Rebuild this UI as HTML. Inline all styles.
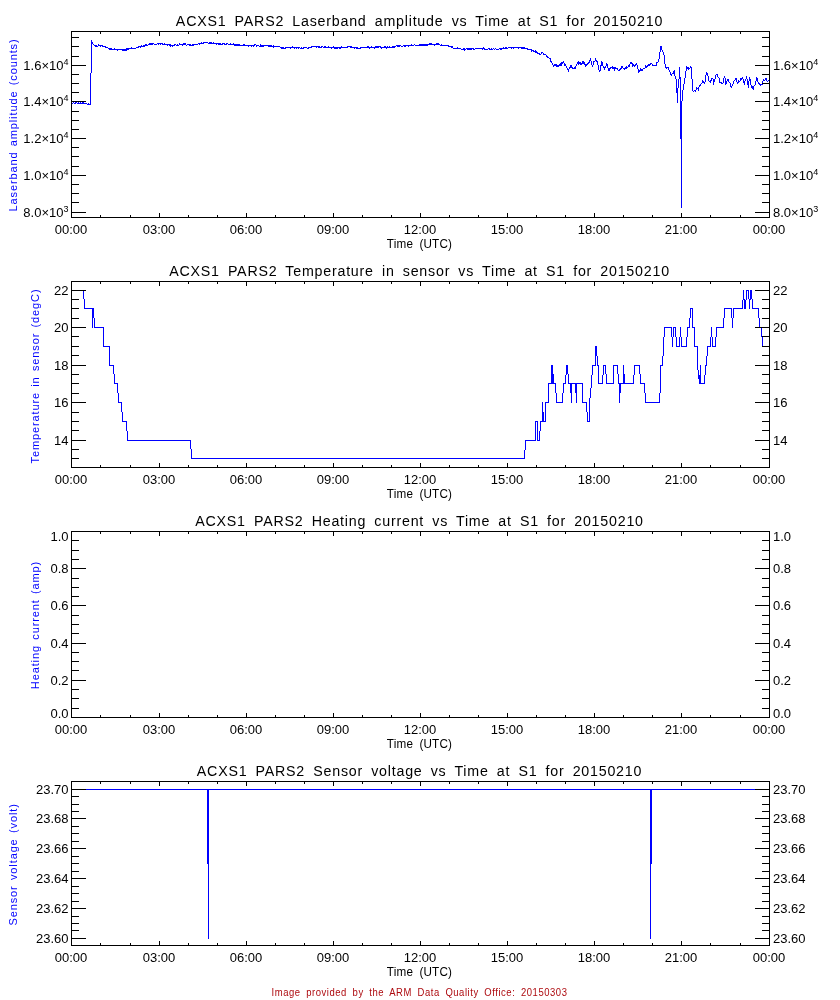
<!DOCTYPE html>
<html><head><meta charset="utf-8"><style>
html,body{margin:0;padding:0;background:#fff;overflow:hidden;}
svg{display:block;will-change:transform;font-family:"Liberation Sans",sans-serif;}
</style></head><body>
<svg width="840" height="1000" viewBox="0 0 840 1000">
<rect width="840" height="1000" fill="#fff"/>
<path fill="#0000ff" shape-rendering="crispEdges" d="M71 102h1v2h-1zM71 290h1v1h-1zM72 103h1v1h-1zM72 290h1v1h-1zM73 102h1v1h-1zM73 290h1v1h-1zM74 103h1v1h-1zM74 290h1v1h-1zM75 102h1v2h-1zM75 290h1v1h-1zM76 102h1v1h-1zM76 290h1v1h-1zM77 103h1v1h-1zM77 290h1v1h-1zM78 102h1v2h-1zM78 290h1v1h-1zM79 103h1v1h-1zM79 290h1v1h-1zM80 102h1v2h-1zM80 290h1v1h-1zM81 103h1v1h-1zM81 290h1v1h-1zM82 102h1v2h-1zM82 290h1v1h-1zM83 102h1v2h-1zM83 290h1v9h-1zM84 103h1v1h-1zM84 299h1v10h-1zM85 103h1v1h-1zM85 308h1v1h-1zM86 103h1v1h-1zM86 308h1v1h-1zM87 104h1v1h-1zM87 308h1v1h-1zM88 103h1v2h-1zM88 308h1v1h-1zM89 104h1v1h-1zM89 308h1v1h-1zM90 73h1v32h-1zM90 308h1v1h-1zM91 40h1v33h-1zM91 308h1v1h-1zM92 42h1v2h-1zM92 308h1v20h-1zM93 44h1v1h-1zM93 308h1v10h-1zM94 45h1v1h-1zM94 318h1v10h-1zM95 45h1v2h-1zM95 327h1v1h-1zM96 45h1v2h-1zM96 327h1v1h-1zM97 46h1v1h-1zM97 327h1v1h-1zM98 44h1v2h-1zM98 327h1v1h-1zM99 45h1v1h-1zM99 327h1v1h-1zM100 45h1v2h-1zM100 327h1v1h-1zM101 45h1v1h-1zM101 327h1v1h-1zM102 45h1v2h-1zM102 327h1v1h-1zM103 46h1v1h-1zM103 327h1v20h-1zM104 46h1v1h-1zM104 346h1v1h-1zM105 46h1v2h-1zM105 346h1v1h-1zM106 47h1v1h-1zM106 346h1v1h-1zM107 47h1v1h-1zM107 346h1v1h-1zM108 48h1v1h-1zM108 346h1v1h-1zM109 48h1v2h-1zM109 346h1v20h-1zM110 48h1v2h-1zM110 365h1v1h-1zM111 48h1v2h-1zM111 365h1v1h-1zM112 49h1v1h-1zM112 365h1v1h-1zM113 49h1v1h-1zM113 365h1v9h-1zM114 48h1v2h-1zM114 374h1v10h-1zM115 49h1v1h-1zM115 383h1v1h-1zM116 49h1v1h-1zM116 383h1v1h-1zM117 49h1v2h-1zM117 383h1v10h-1zM118 49h1v1h-1zM118 393h1v10h-1zM119 49h1v1h-1zM119 402h1v1h-1zM120 49h1v1h-1zM120 402h1v1h-1zM121 49h1v1h-1zM121 402h1v10h-1zM122 49h1v2h-1zM122 412h1v10h-1zM123 49h1v2h-1zM123 421h1v1h-1zM124 49h1v2h-1zM124 421h1v1h-1zM125 49h1v2h-1zM125 421h1v1h-1zM126 48h1v3h-1zM126 421h1v10h-1zM127 48h1v2h-1zM127 431h1v10h-1zM128 48h1v2h-1zM128 440h1v1h-1zM129 48h1v1h-1zM129 440h1v1h-1zM130 48h1v1h-1zM130 440h1v1h-1zM131 47h1v2h-1zM131 440h1v1h-1zM132 48h1v1h-1zM132 440h1v1h-1zM133 48h1v1h-1zM133 440h1v1h-1zM134 48h1v1h-1zM134 440h1v1h-1zM135 48h1v1h-1zM135 440h1v1h-1zM136 47h1v1h-1zM136 440h1v1h-1zM137 47h1v1h-1zM137 440h1v1h-1zM138 46h1v2h-1zM138 440h1v1h-1zM139 46h1v1h-1zM139 440h1v1h-1zM140 46h1v2h-1zM140 440h1v1h-1zM141 45h1v2h-1zM141 440h1v1h-1zM142 46h1v1h-1zM142 440h1v1h-1zM143 45h1v2h-1zM143 440h1v1h-1zM144 45h1v2h-1zM144 440h1v1h-1zM145 44h1v2h-1zM145 440h1v1h-1zM146 44h1v2h-1zM146 440h1v1h-1zM147 45h1v1h-1zM147 440h1v1h-1zM148 44h1v1h-1zM148 440h1v1h-1zM149 43h1v2h-1zM149 440h1v1h-1zM150 43h1v2h-1zM150 440h1v1h-1zM151 43h1v2h-1zM151 440h1v1h-1zM152 43h1v2h-1zM152 440h1v1h-1zM153 43h1v1h-1zM153 440h1v1h-1zM154 44h1v1h-1zM154 440h1v1h-1zM155 44h1v1h-1zM155 440h1v1h-1zM156 44h1v1h-1zM156 440h1v1h-1zM157 43h1v1h-1zM157 440h1v1h-1zM158 43h1v2h-1zM158 440h1v1h-1zM159 43h1v1h-1zM159 440h1v1h-1zM160 43h1v2h-1zM160 440h1v1h-1zM161 43h1v1h-1zM161 440h1v1h-1zM162 43h1v2h-1zM162 440h1v1h-1zM163 44h1v1h-1zM163 440h1v1h-1zM164 43h1v2h-1zM164 440h1v1h-1zM165 44h1v1h-1zM165 440h1v1h-1zM166 44h1v1h-1zM166 440h1v1h-1zM167 44h1v2h-1zM167 440h1v1h-1zM168 44h1v1h-1zM168 440h1v1h-1zM169 44h1v2h-1zM169 440h1v1h-1zM170 44h1v3h-1zM170 440h1v1h-1zM171 45h1v1h-1zM171 440h1v1h-1zM172 45h1v2h-1zM172 440h1v1h-1zM173 45h1v1h-1zM173 440h1v1h-1zM174 44h1v2h-1zM174 440h1v1h-1zM175 44h1v1h-1zM175 440h1v1h-1zM176 45h1v1h-1zM176 440h1v1h-1zM177 44h1v2h-1zM177 440h1v1h-1zM178 45h1v1h-1zM178 440h1v1h-1zM179 43h1v2h-1zM179 440h1v1h-1zM180 44h1v1h-1zM180 440h1v1h-1zM181 44h1v1h-1zM181 440h1v1h-1zM182 44h1v2h-1zM182 440h1v1h-1zM183 43h1v2h-1zM183 440h1v1h-1zM184 43h1v2h-1zM184 440h1v1h-1zM185 43h1v2h-1zM185 440h1v1h-1zM186 45h1v1h-1zM186 440h1v1h-1zM187 44h1v1h-1zM187 440h1v1h-1zM188 44h1v1h-1zM188 440h1v1h-1zM189 44h1v2h-1zM189 440h1v1h-1zM190 44h1v2h-1zM190 440h1v9h-1zM191 45h1v1h-1zM191 449h1v10h-1zM192 44h1v2h-1zM192 458h1v1h-1zM193 44h1v2h-1zM193 458h1v1h-1zM194 44h1v1h-1zM194 458h1v1h-1zM195 44h1v1h-1zM195 458h1v1h-1zM196 44h1v1h-1zM196 458h1v1h-1zM197 44h1v1h-1zM197 458h1v1h-1zM198 43h1v1h-1zM198 458h1v1h-1zM199 43h1v2h-1zM199 458h1v1h-1zM200 43h1v1h-1zM200 458h1v1h-1zM201 42h1v2h-1zM201 458h1v1h-1zM202 43h1v1h-1zM202 458h1v1h-1zM203 42h1v2h-1zM203 458h1v1h-1zM204 42h1v1h-1zM204 458h1v1h-1zM205 42h1v1h-1zM205 458h1v1h-1zM206 42h1v1h-1zM206 458h1v1h-1zM207 42h1v1h-1zM207 458h1v1h-1zM208 43h1v1h-1zM208 458h1v1h-1zM209 42h1v2h-1zM209 458h1v1h-1zM210 42h1v2h-1zM210 458h1v1h-1zM211 42h1v2h-1zM211 458h1v1h-1zM212 43h1v1h-1zM212 458h1v1h-1zM213 42h1v2h-1zM213 458h1v1h-1zM214 43h1v1h-1zM214 458h1v1h-1zM215 43h1v1h-1zM215 458h1v1h-1zM216 43h1v2h-1zM216 458h1v1h-1zM217 43h1v1h-1zM217 458h1v1h-1zM218 43h1v2h-1zM218 458h1v1h-1zM219 43h1v2h-1zM219 458h1v1h-1zM220 43h1v2h-1zM220 458h1v1h-1zM221 44h1v1h-1zM221 458h1v1h-1zM222 43h1v2h-1zM222 458h1v1h-1zM223 43h1v1h-1zM223 458h1v1h-1zM224 43h1v2h-1zM224 458h1v1h-1zM225 44h1v1h-1zM225 458h1v1h-1zM226 43h1v2h-1zM226 458h1v1h-1zM227 43h1v1h-1zM227 458h1v1h-1zM228 44h1v1h-1zM228 458h1v1h-1zM229 44h1v1h-1zM229 458h1v1h-1zM230 43h1v2h-1zM230 458h1v1h-1zM231 44h1v1h-1zM231 458h1v1h-1zM232 44h1v1h-1zM232 458h1v1h-1zM233 43h1v2h-1zM233 458h1v1h-1zM234 44h1v2h-1zM234 458h1v1h-1zM235 44h1v2h-1zM235 458h1v1h-1zM236 44h1v2h-1zM236 458h1v1h-1zM237 44h1v2h-1zM237 458h1v1h-1zM238 44h1v2h-1zM238 458h1v1h-1zM239 44h1v2h-1zM239 458h1v1h-1zM240 45h1v1h-1zM240 458h1v1h-1zM241 45h1v1h-1zM241 458h1v1h-1zM242 45h1v1h-1zM242 458h1v1h-1zM243 44h1v2h-1zM243 458h1v1h-1zM244 44h1v2h-1zM244 458h1v1h-1zM245 45h1v1h-1zM245 458h1v1h-1zM246 45h1v1h-1zM246 458h1v1h-1zM247 45h1v1h-1zM247 458h1v1h-1zM248 45h1v2h-1zM248 458h1v1h-1zM249 45h1v1h-1zM249 458h1v1h-1zM250 45h1v1h-1zM250 458h1v1h-1zM251 45h1v2h-1zM251 458h1v1h-1zM252 45h1v1h-1zM252 458h1v1h-1zM253 45h1v2h-1zM253 458h1v1h-1zM254 44h1v2h-1zM254 458h1v1h-1zM255 44h1v1h-1zM255 458h1v1h-1zM256 45h1v2h-1zM256 458h1v1h-1zM257 45h1v1h-1zM257 458h1v1h-1zM258 45h1v1h-1zM258 458h1v1h-1zM259 46h1v1h-1zM259 458h1v1h-1zM260 44h1v3h-1zM260 458h1v1h-1zM261 45h1v2h-1zM261 458h1v1h-1zM262 45h1v2h-1zM262 458h1v1h-1zM263 45h1v2h-1zM263 458h1v1h-1zM264 45h1v1h-1zM264 458h1v1h-1zM265 45h1v1h-1zM265 458h1v1h-1zM266 45h1v1h-1zM266 458h1v1h-1zM267 45h1v1h-1zM267 458h1v1h-1zM268 45h1v2h-1zM268 458h1v1h-1zM269 45h1v2h-1zM269 458h1v1h-1zM270 45h1v2h-1zM270 458h1v1h-1zM271 45h1v2h-1zM271 458h1v1h-1zM272 46h1v1h-1zM272 458h1v1h-1zM273 45h1v3h-1zM273 458h1v1h-1zM274 46h1v1h-1zM274 458h1v1h-1zM275 46h1v1h-1zM275 458h1v1h-1zM276 46h1v1h-1zM276 458h1v1h-1zM277 46h1v1h-1zM277 458h1v1h-1zM278 46h1v1h-1zM278 458h1v1h-1zM279 46h1v1h-1zM279 458h1v1h-1zM280 47h1v1h-1zM280 458h1v1h-1zM281 47h1v2h-1zM281 458h1v1h-1zM282 47h1v2h-1zM282 458h1v1h-1zM283 47h1v2h-1zM283 458h1v1h-1zM284 48h1v1h-1zM284 458h1v1h-1zM285 47h1v2h-1zM285 458h1v1h-1zM286 47h1v1h-1zM286 458h1v1h-1zM287 47h1v1h-1zM287 458h1v1h-1zM288 47h1v1h-1zM288 458h1v1h-1zM289 47h1v1h-1zM289 458h1v1h-1zM290 47h1v2h-1zM290 458h1v1h-1zM291 47h1v1h-1zM291 458h1v1h-1zM292 46h1v2h-1zM292 458h1v1h-1zM293 47h1v1h-1zM293 458h1v1h-1zM294 47h1v2h-1zM294 458h1v1h-1zM295 47h1v1h-1zM295 458h1v1h-1zM296 47h1v2h-1zM296 458h1v1h-1zM297 47h1v1h-1zM297 458h1v1h-1zM298 47h1v2h-1zM298 458h1v1h-1zM299 47h1v1h-1zM299 458h1v1h-1zM300 48h1v1h-1zM300 458h1v1h-1zM301 47h1v2h-1zM301 458h1v1h-1zM302 48h1v1h-1zM302 458h1v1h-1zM303 47h1v2h-1zM303 458h1v1h-1zM304 47h1v1h-1zM304 458h1v1h-1zM305 47h1v1h-1zM305 458h1v1h-1zM306 47h1v1h-1zM306 458h1v1h-1zM307 48h1v1h-1zM307 458h1v1h-1zM308 47h1v2h-1zM308 458h1v1h-1zM309 47h1v1h-1zM309 458h1v1h-1zM310 47h1v1h-1zM310 458h1v1h-1zM311 46h1v2h-1zM311 458h1v1h-1zM312 46h1v1h-1zM312 458h1v1h-1zM313 46h1v1h-1zM313 458h1v1h-1zM314 46h1v1h-1zM314 458h1v1h-1zM315 46h1v1h-1zM315 458h1v1h-1zM316 46h1v2h-1zM316 458h1v1h-1zM317 46h1v1h-1zM317 458h1v1h-1zM318 46h1v2h-1zM318 458h1v1h-1zM319 46h1v2h-1zM319 458h1v1h-1zM320 47h1v1h-1zM320 458h1v1h-1zM321 46h1v2h-1zM321 458h1v1h-1zM322 46h1v1h-1zM322 458h1v1h-1zM323 47h1v1h-1zM323 458h1v1h-1zM324 46h1v2h-1zM324 458h1v1h-1zM325 46h1v2h-1zM325 458h1v1h-1zM326 47h1v1h-1zM326 458h1v1h-1zM327 47h1v1h-1zM327 458h1v1h-1zM328 46h1v2h-1zM328 458h1v1h-1zM329 47h1v1h-1zM329 458h1v1h-1zM330 47h1v1h-1zM330 458h1v1h-1zM331 47h1v2h-1zM331 458h1v1h-1zM332 47h1v1h-1zM332 458h1v1h-1zM333 46h1v2h-1zM333 458h1v1h-1zM334 47h1v2h-1zM334 458h1v1h-1zM335 47h1v2h-1zM335 458h1v1h-1zM336 47h1v2h-1zM336 458h1v1h-1zM337 47h1v2h-1zM337 458h1v1h-1zM338 47h1v1h-1zM338 458h1v1h-1zM339 47h1v2h-1zM339 458h1v1h-1zM340 47h1v2h-1zM340 458h1v1h-1zM341 46h1v2h-1zM341 458h1v1h-1zM342 47h1v1h-1zM342 458h1v1h-1zM343 47h1v1h-1zM343 458h1v1h-1zM344 47h1v1h-1zM344 458h1v1h-1zM345 47h1v1h-1zM345 458h1v1h-1zM346 47h1v1h-1zM346 458h1v1h-1zM347 46h1v2h-1zM347 458h1v1h-1zM348 46h1v1h-1zM348 458h1v1h-1zM349 46h1v1h-1zM349 458h1v1h-1zM350 46h1v2h-1zM350 458h1v1h-1zM351 46h1v2h-1zM351 458h1v1h-1zM352 47h1v1h-1zM352 458h1v1h-1zM353 47h1v1h-1zM353 458h1v1h-1zM354 47h1v2h-1zM354 458h1v1h-1zM355 47h1v1h-1zM355 458h1v1h-1zM356 47h1v2h-1zM356 458h1v1h-1zM357 47h1v2h-1zM357 458h1v1h-1zM358 48h1v1h-1zM358 458h1v1h-1zM359 48h1v1h-1zM359 458h1v1h-1zM360 47h1v2h-1zM360 458h1v1h-1zM361 47h1v1h-1zM361 458h1v1h-1zM362 47h1v1h-1zM362 458h1v1h-1zM363 47h1v1h-1zM363 458h1v1h-1zM364 47h1v1h-1zM364 458h1v1h-1zM365 47h1v1h-1zM365 458h1v1h-1zM366 47h1v1h-1zM366 458h1v1h-1zM367 46h1v2h-1zM367 458h1v1h-1zM368 46h1v2h-1zM368 458h1v1h-1zM369 47h1v2h-1zM369 458h1v1h-1zM370 47h1v1h-1zM370 458h1v1h-1zM371 46h1v2h-1zM371 458h1v1h-1zM372 47h1v1h-1zM372 458h1v1h-1zM373 47h1v1h-1zM373 458h1v1h-1zM374 47h1v2h-1zM374 458h1v1h-1zM375 46h1v2h-1zM375 458h1v1h-1zM376 46h1v2h-1zM376 458h1v1h-1zM377 46h1v2h-1zM377 458h1v1h-1zM378 46h1v2h-1zM378 458h1v1h-1zM379 46h1v1h-1zM379 458h1v1h-1zM380 46h1v2h-1zM380 458h1v1h-1zM381 47h1v2h-1zM381 458h1v1h-1zM382 47h1v1h-1zM382 458h1v1h-1zM383 47h1v1h-1zM383 458h1v1h-1zM384 46h1v2h-1zM384 458h1v1h-1zM385 46h1v2h-1zM385 458h1v1h-1zM386 47h1v2h-1zM386 458h1v1h-1zM387 46h1v2h-1zM387 458h1v1h-1zM388 47h1v1h-1zM388 458h1v1h-1zM389 46h1v2h-1zM389 458h1v1h-1zM390 47h1v1h-1zM390 458h1v1h-1zM391 47h1v1h-1zM391 458h1v1h-1zM392 46h1v2h-1zM392 458h1v1h-1zM393 46h1v2h-1zM393 458h1v1h-1zM394 46h1v2h-1zM394 458h1v1h-1zM395 46h1v1h-1zM395 458h1v1h-1zM396 45h1v1h-1zM396 458h1v1h-1zM397 45h1v2h-1zM397 458h1v1h-1zM398 45h1v2h-1zM398 458h1v1h-1zM399 45h1v2h-1zM399 458h1v1h-1zM400 45h1v1h-1zM400 458h1v1h-1zM401 46h1v1h-1zM401 458h1v1h-1zM402 46h1v1h-1zM402 458h1v1h-1zM403 45h1v1h-1zM403 458h1v1h-1zM404 45h1v2h-1zM404 458h1v1h-1zM405 45h1v2h-1zM405 458h1v1h-1zM406 45h1v1h-1zM406 458h1v1h-1zM407 45h1v1h-1zM407 458h1v1h-1zM408 45h1v2h-1zM408 458h1v1h-1zM409 45h1v1h-1zM409 458h1v1h-1zM410 45h1v1h-1zM410 458h1v1h-1zM411 44h1v2h-1zM411 458h1v1h-1zM412 45h1v1h-1zM412 458h1v1h-1zM413 45h1v1h-1zM413 458h1v1h-1zM414 44h1v1h-1zM414 458h1v1h-1zM415 45h1v1h-1zM415 458h1v1h-1zM416 45h1v1h-1zM416 458h1v1h-1zM417 45h1v1h-1zM417 458h1v1h-1zM418 45h1v1h-1zM418 458h1v1h-1zM419 44h1v2h-1zM419 458h1v1h-1zM420 44h1v2h-1zM420 458h1v1h-1zM421 44h1v2h-1zM421 458h1v1h-1zM422 44h1v2h-1zM422 458h1v1h-1zM423 44h1v2h-1zM423 458h1v1h-1zM424 44h1v2h-1zM424 458h1v1h-1zM425 44h1v2h-1zM425 458h1v1h-1zM426 44h1v2h-1zM426 458h1v1h-1zM427 44h1v2h-1zM427 458h1v1h-1zM428 44h1v1h-1zM428 458h1v1h-1zM429 43h1v2h-1zM429 458h1v1h-1zM430 43h1v2h-1zM430 458h1v1h-1zM431 43h1v2h-1zM431 458h1v1h-1zM432 44h1v1h-1zM432 458h1v1h-1zM433 44h1v1h-1zM433 458h1v1h-1zM434 44h1v2h-1zM434 458h1v1h-1zM435 44h1v1h-1zM435 458h1v1h-1zM436 43h1v2h-1zM436 458h1v1h-1zM437 43h1v2h-1zM437 458h1v1h-1zM438 43h1v2h-1zM438 458h1v1h-1zM439 44h1v1h-1zM439 458h1v1h-1zM440 45h1v1h-1zM440 458h1v1h-1zM441 44h1v2h-1zM441 458h1v1h-1zM442 45h1v1h-1zM442 458h1v1h-1zM443 45h1v1h-1zM443 458h1v1h-1zM444 45h1v1h-1zM444 458h1v1h-1zM445 45h1v1h-1zM445 458h1v1h-1zM446 45h1v1h-1zM446 458h1v1h-1zM447 45h1v1h-1zM447 458h1v1h-1zM448 45h1v2h-1zM448 458h1v1h-1zM449 46h1v1h-1zM449 458h1v1h-1zM450 46h1v1h-1zM450 458h1v1h-1zM451 46h1v2h-1zM451 458h1v1h-1zM452 46h1v2h-1zM452 458h1v1h-1zM453 48h1v1h-1zM453 458h1v1h-1zM454 48h1v1h-1zM454 458h1v1h-1zM455 48h1v1h-1zM455 458h1v1h-1zM456 48h1v1h-1zM456 458h1v1h-1zM457 47h1v2h-1zM457 458h1v1h-1zM458 48h1v1h-1zM458 458h1v1h-1zM459 48h1v1h-1zM459 458h1v1h-1zM460 48h1v1h-1zM460 458h1v1h-1zM461 49h1v1h-1zM461 458h1v1h-1zM462 49h1v1h-1zM462 458h1v1h-1zM463 48h1v2h-1zM463 458h1v1h-1zM464 48h1v3h-1zM464 458h1v1h-1zM465 49h1v1h-1zM465 458h1v1h-1zM466 48h1v1h-1zM466 458h1v1h-1zM467 48h1v2h-1zM467 458h1v1h-1zM468 48h1v2h-1zM468 458h1v1h-1zM469 48h1v2h-1zM469 458h1v1h-1zM470 48h1v2h-1zM470 458h1v1h-1zM471 48h1v2h-1zM471 458h1v1h-1zM472 48h1v1h-1zM472 458h1v1h-1zM473 48h1v2h-1zM473 458h1v1h-1zM474 49h1v1h-1zM474 458h1v1h-1zM475 48h1v1h-1zM475 458h1v1h-1zM476 48h1v1h-1zM476 458h1v1h-1zM477 48h1v1h-1zM477 458h1v1h-1zM478 48h1v1h-1zM478 458h1v1h-1zM479 48h1v1h-1zM479 458h1v1h-1zM480 48h1v1h-1zM480 458h1v1h-1zM481 48h1v1h-1zM481 458h1v1h-1zM482 48h1v2h-1zM482 458h1v1h-1zM483 47h1v2h-1zM483 458h1v1h-1zM484 48h1v2h-1zM484 458h1v1h-1zM485 49h1v1h-1zM485 458h1v1h-1zM486 49h1v1h-1zM486 458h1v1h-1zM487 49h1v1h-1zM487 458h1v1h-1zM488 48h1v1h-1zM488 458h1v1h-1zM489 48h1v2h-1zM489 458h1v1h-1zM490 49h1v1h-1zM490 458h1v1h-1zM491 48h1v2h-1zM491 458h1v1h-1zM492 49h1v1h-1zM492 458h1v1h-1zM493 48h1v1h-1zM493 458h1v1h-1zM494 49h1v1h-1zM494 458h1v1h-1zM495 48h1v1h-1zM495 458h1v1h-1zM496 49h1v1h-1zM496 458h1v1h-1zM497 49h1v1h-1zM497 458h1v1h-1zM498 49h1v1h-1zM498 458h1v1h-1zM499 48h1v1h-1zM499 458h1v1h-1zM500 48h1v2h-1zM500 458h1v1h-1zM501 48h1v2h-1zM501 458h1v1h-1zM502 48h1v1h-1zM502 458h1v1h-1zM503 47h1v2h-1zM503 458h1v1h-1zM504 48h1v1h-1zM504 458h1v1h-1zM505 47h1v2h-1zM505 458h1v1h-1zM506 47h1v2h-1zM506 458h1v1h-1zM507 48h1v1h-1zM507 458h1v1h-1zM508 47h1v1h-1zM508 458h1v1h-1zM509 47h1v1h-1zM509 458h1v1h-1zM510 47h1v1h-1zM510 458h1v1h-1zM511 47h1v2h-1zM511 458h1v1h-1zM512 47h1v1h-1zM512 458h1v1h-1zM513 47h1v2h-1zM513 458h1v1h-1zM514 47h1v1h-1zM514 458h1v1h-1zM515 47h1v1h-1zM515 458h1v1h-1zM516 47h1v1h-1zM516 458h1v1h-1zM517 47h1v1h-1zM517 458h1v1h-1zM518 47h1v2h-1zM518 458h1v1h-1zM519 47h1v1h-1zM519 458h1v1h-1zM520 47h1v1h-1zM520 458h1v1h-1zM521 47h1v2h-1zM521 458h1v1h-1zM522 47h1v2h-1zM522 458h1v1h-1zM523 47h1v2h-1zM523 458h1v1h-1zM524 47h1v2h-1zM524 450h1v9h-1zM525 48h1v1h-1zM525 440h1v10h-1zM526 48h1v1h-1zM526 440h1v1h-1zM527 48h1v2h-1zM527 440h1v1h-1zM528 49h1v1h-1zM528 440h1v1h-1zM529 49h1v1h-1zM529 440h1v1h-1zM530 49h1v1h-1zM530 440h1v1h-1zM531 49h1v3h-1zM531 440h1v1h-1zM532 50h1v1h-1zM532 440h1v1h-1zM533 50h1v2h-1zM533 440h1v1h-1zM534 51h1v1h-1zM534 440h1v1h-1zM535 50h1v3h-1zM535 421h1v20h-1zM536 51h1v2h-1zM536 421h1v1h-1zM537 52h1v2h-1zM537 421h1v20h-1zM538 53h1v1h-1zM538 440h1v1h-1zM539 53h1v2h-1zM539 431h1v10h-1zM540 54h1v1h-1zM540 421h1v10h-1zM541 52h1v2h-1zM541 421h1v1h-1zM542 52h1v1h-1zM542 402h1v20h-1zM543 53h1v2h-1zM543 412h1v10h-1zM544 54h1v1h-1zM544 421h1v1h-1zM545 54h1v1h-1zM545 402h1v20h-1zM546 55h1v2h-1zM546 402h1v1h-1zM547 56h1v2h-1zM547 402h1v1h-1zM548 57h1v1h-1zM548 383h1v20h-1zM549 58h1v1h-1zM549 383h1v1h-1zM550 58h1v4h-1zM550 383h1v1h-1zM551 61h1v2h-1zM551 365h1v19h-1zM552 63h1v2h-1zM552 365h1v19h-1zM553 65h1v2h-1zM553 374h1v10h-1zM554 64h1v2h-1zM554 383h1v1h-1zM555 64h1v2h-1zM555 383h1v10h-1zM556 64h1v3h-1zM556 393h1v10h-1zM557 65h1v2h-1zM557 402h1v1h-1zM558 65h1v2h-1zM558 402h1v1h-1zM559 64h1v2h-1zM559 402h1v1h-1zM560 63h1v3h-1zM560 402h1v1h-1zM561 62h1v4h-1zM561 402h1v1h-1zM562 62h1v2h-1zM562 393h1v10h-1zM563 61h1v2h-1zM563 383h1v10h-1zM564 63h1v3h-1zM564 383h1v1h-1zM565 64h1v2h-1zM565 375h1v9h-1zM566 66h1v2h-1zM566 365h1v10h-1zM567 68h1v2h-1zM567 365h1v9h-1zM568 69h1v3h-1zM568 374h1v10h-1zM569 67h1v2h-1zM569 383h1v1h-1zM570 65h1v3h-1zM570 383h1v10h-1zM571 65h1v3h-1zM571 383h1v20h-1zM572 67h1v2h-1zM572 383h1v1h-1zM573 68h1v1h-1zM573 383h1v1h-1zM574 67h1v2h-1zM574 383h1v1h-1zM575 66h1v3h-1zM575 383h1v10h-1zM576 64h1v2h-1zM576 383h1v20h-1zM577 62h1v2h-1zM577 383h1v1h-1zM578 61h1v4h-1zM578 383h1v1h-1zM579 62h1v2h-1zM579 383h1v1h-1zM580 62h1v3h-1zM580 383h1v1h-1zM581 63h1v2h-1zM581 383h1v1h-1zM582 61h1v3h-1zM582 383h1v20h-1zM583 61h1v3h-1zM583 402h1v1h-1zM584 62h1v3h-1zM584 402h1v1h-1zM585 64h1v3h-1zM585 402h1v1h-1zM586 64h1v2h-1zM586 402h1v10h-1zM587 63h1v2h-1zM587 412h1v10h-1zM588 62h1v2h-1zM588 421h1v1h-1zM589 60h1v3h-1zM589 398h1v24h-1zM590 58h1v3h-1zM590 388h1v10h-1zM591 61h1v4h-1zM591 375h1v13h-1zM592 65h1v2h-1zM592 365h1v10h-1zM593 61h1v4h-1zM593 365h1v1h-1zM594 61h1v1h-1zM594 365h1v1h-1zM595 58h1v3h-1zM595 346h1v20h-1zM596 60h1v2h-1zM596 346h1v10h-1zM597 61h1v4h-1zM597 356h1v10h-1zM598 65h1v5h-1zM598 365h1v19h-1zM599 70h1v2h-1zM599 383h1v1h-1zM600 65h1v6h-1zM600 383h1v1h-1zM601 61h1v5h-1zM601 383h1v1h-1zM602 62h1v4h-1zM602 375h1v9h-1zM603 66h1v2h-1zM603 365h1v10h-1zM604 67h1v3h-1zM604 365h1v1h-1zM605 66h1v2h-1zM605 365h1v9h-1zM606 63h1v3h-1zM606 374h1v10h-1zM607 64h1v4h-1zM607 383h1v1h-1zM608 68h1v3h-1zM608 383h1v1h-1zM609 68h1v3h-1zM609 383h1v1h-1zM610 67h1v2h-1zM610 383h1v1h-1zM611 67h1v1h-1zM611 383h1v1h-1zM612 66h1v3h-1zM612 383h1v1h-1zM613 67h1v2h-1zM613 365h1v19h-1zM614 67h1v4h-1zM614 365h1v1h-1zM615 67h1v2h-1zM615 365h1v1h-1zM616 68h1v1h-1zM616 365h1v1h-1zM617 68h1v2h-1zM617 365h1v9h-1zM618 70h1v1h-1zM618 374h1v10h-1zM619 69h1v2h-1zM619 383h1v20h-1zM620 68h1v2h-1zM620 383h1v10h-1zM621 66h1v3h-1zM621 383h1v1h-1zM622 66h1v2h-1zM622 383h1v1h-1zM623 68h1v1h-1zM623 365h1v19h-1zM624 68h1v2h-1zM624 374h1v10h-1zM625 67h1v2h-1zM625 383h1v1h-1zM626 66h1v3h-1zM626 383h1v1h-1zM627 67h1v1h-1zM627 383h1v1h-1zM628 65h1v2h-1zM628 383h1v1h-1zM629 64h1v3h-1zM629 383h1v1h-1zM630 62h1v2h-1zM630 383h1v1h-1zM631 62h1v2h-1zM631 383h1v1h-1zM632 63h1v4h-1zM632 383h1v1h-1zM633 64h1v2h-1zM633 375h1v9h-1zM634 65h1v2h-1zM634 365h1v10h-1zM635 64h1v2h-1zM635 365h1v1h-1zM636 63h1v2h-1zM636 365h1v1h-1zM637 65h1v4h-1zM637 365h1v1h-1zM638 69h1v4h-1zM638 365h1v1h-1zM639 70h1v2h-1zM639 365h1v9h-1zM640 68h1v3h-1zM640 374h1v10h-1zM641 69h1v2h-1zM641 383h1v1h-1zM642 69h1v2h-1zM642 383h1v1h-1zM643 68h1v1h-1zM643 383h1v1h-1zM644 68h1v1h-1zM644 383h1v10h-1zM645 65h1v3h-1zM645 393h1v10h-1zM646 66h1v2h-1zM646 402h1v1h-1zM647 65h1v2h-1zM647 402h1v1h-1zM648 64h1v2h-1zM648 402h1v1h-1zM649 64h1v2h-1zM649 402h1v1h-1zM650 63h1v2h-1zM650 402h1v1h-1zM651 63h1v1h-1zM651 402h1v1h-1zM652 64h1v2h-1zM652 402h1v1h-1zM653 65h1v1h-1zM653 402h1v1h-1zM654 65h1v1h-1zM654 402h1v1h-1zM655 65h1v1h-1zM655 402h1v1h-1zM656 62h1v4h-1zM656 402h1v1h-1zM657 62h1v1h-1zM657 402h1v1h-1zM658 59h1v3h-1zM658 402h1v1h-1zM659 52h1v7h-1zM659 393h1v10h-1zM660 46h1v6h-1zM660 365h1v28h-1zM661 46h1v4h-1zM661 365h1v1h-1zM662 50h1v2h-1zM662 356h1v10h-1zM663 52h1v3h-1zM663 337h1v19h-1zM664 55h1v9h-1zM664 327h1v10h-1zM665 64h1v4h-1zM665 327h1v1h-1zM666 67h1v2h-1zM666 327h1v1h-1zM667 67h1v1h-1zM667 327h1v1h-1zM668 67h1v3h-1zM668 327h1v1h-1zM669 70h1v2h-1zM669 327h1v1h-1zM670 72h1v3h-1zM670 327h1v1h-1zM671 74h1v2h-1zM671 327h1v10h-1zM672 73h1v1h-1zM672 337h1v10h-1zM673 71h1v3h-1zM673 327h1v10h-1zM674 70h1v6h-1zM674 327h1v1h-1zM675 76h1v3h-1zM675 327h1v10h-1zM676 79h1v14h-1zM676 337h1v10h-1zM677 88h1v15h-1zM677 346h1v1h-1zM678 79h1v9h-1zM678 346h1v1h-1zM679 67h1v12h-1zM679 337h1v10h-1zM680 77h1v62h-1zM680 327h1v10h-1zM681 101h1v107h-1zM681 337h1v10h-1zM682 90h1v11h-1zM682 346h1v1h-1zM683 84h1v6h-1zM683 346h1v1h-1zM684 78h1v6h-1zM684 346h1v1h-1zM685 71h1v7h-1zM685 346h1v1h-1zM686 66h1v5h-1zM686 337h1v10h-1zM687 67h1v2h-1zM687 327h1v10h-1zM688 67h1v3h-1zM688 327h1v1h-1zM689 68h1v1h-1zM689 318h1v10h-1zM690 66h1v2h-1zM690 308h1v10h-1zM691 67h1v12h-1zM691 308h1v1h-1zM692 79h1v12h-1zM692 308h1v20h-1zM693 91h1v1h-1zM693 327h1v1h-1zM694 90h1v1h-1zM694 327h1v20h-1zM695 90h1v2h-1zM695 346h1v1h-1zM696 87h1v3h-1zM696 346h1v1h-1zM697 88h1v1h-1zM697 346h1v24h-1zM698 87h1v4h-1zM698 370h1v9h-1zM699 85h1v2h-1zM699 375h1v9h-1zM700 84h1v2h-1zM700 365h1v19h-1zM701 83h1v1h-1zM701 383h1v1h-1zM702 80h1v3h-1zM702 383h1v1h-1zM703 81h1v2h-1zM703 383h1v1h-1zM704 82h1v2h-1zM704 375h1v9h-1zM705 75h1v7h-1zM705 365h1v10h-1zM706 72h1v3h-1zM706 356h1v10h-1zM707 73h1v3h-1zM707 346h1v10h-1zM708 76h1v5h-1zM708 346h1v1h-1zM709 81h1v1h-1zM709 346h1v1h-1zM710 80h1v3h-1zM710 337h1v10h-1zM711 78h1v3h-1zM711 327h1v10h-1zM712 78h1v1h-1zM712 337h1v10h-1zM713 79h1v6h-1zM713 346h1v1h-1zM714 79h1v3h-1zM714 346h1v1h-1zM715 75h1v4h-1zM715 337h1v10h-1zM716 74h1v1h-1zM716 327h1v10h-1zM717 74h1v3h-1zM717 327h1v1h-1zM718 77h1v1h-1zM718 327h1v1h-1zM719 78h1v5h-1zM719 327h1v1h-1zM720 82h1v1h-1zM720 327h1v1h-1zM721 82h1v2h-1zM721 327h1v1h-1zM722 83h1v1h-1zM722 327h1v1h-1zM723 78h1v5h-1zM723 318h1v10h-1zM724 76h1v2h-1zM724 308h1v10h-1zM725 78h1v7h-1zM725 308h1v1h-1zM726 81h1v3h-1zM726 308h1v1h-1zM727 79h1v2h-1zM727 308h1v1h-1zM728 79h1v3h-1zM728 308h1v1h-1zM729 82h1v1h-1zM729 308h1v1h-1zM730 83h1v4h-1zM730 308h1v1h-1zM731 86h1v2h-1zM731 308h1v10h-1zM732 84h1v2h-1zM732 318h1v10h-1zM733 81h1v3h-1zM733 308h1v10h-1zM734 80h1v1h-1zM734 308h1v1h-1zM735 78h1v2h-1zM735 308h1v1h-1zM736 78h1v4h-1zM736 308h1v1h-1zM737 82h1v2h-1zM737 308h1v1h-1zM738 80h1v3h-1zM738 308h1v1h-1zM739 81h1v1h-1zM739 308h1v1h-1zM740 78h1v3h-1zM740 308h1v1h-1zM741 78h1v2h-1zM741 308h1v1h-1zM742 77h1v2h-1zM742 300h1v9h-1zM743 79h1v4h-1zM743 290h1v10h-1zM744 81h1v4h-1zM744 299h1v10h-1zM745 79h1v2h-1zM745 300h1v9h-1zM746 76h1v3h-1zM746 290h1v10h-1zM747 79h1v6h-1zM747 290h1v1h-1zM748 81h1v7h-1zM748 290h1v9h-1zM749 77h1v4h-1zM749 299h1v10h-1zM750 79h1v6h-1zM750 290h1v10h-1zM751 85h1v3h-1zM751 290h1v9h-1zM752 86h1v3h-1zM752 299h1v10h-1zM753 86h1v4h-1zM753 308h1v1h-1zM754 85h1v1h-1zM754 308h1v1h-1zM755 81h1v4h-1zM755 308h1v1h-1zM756 77h1v4h-1zM756 308h1v1h-1zM757 78h1v4h-1zM757 308h1v1h-1zM758 82h1v2h-1zM758 308h1v10h-1zM759 83h1v2h-1zM759 318h1v10h-1zM760 84h1v2h-1zM760 327h1v1h-1zM761 84h1v1h-1zM761 327h1v10h-1zM762 81h1v4h-1zM762 337h1v10h-1zM763 79h1v2h-1zM763 346h1v1h-1zM764 80h1v1h-1zM764 346h1v1h-1zM765 78h1v2h-1zM765 346h1v1h-1zM766 78h1v3h-1zM766 346h1v1h-1zM767 81h1v1h-1zM767 346h1v1h-1zM768 80h1v1h-1zM768 346h1v1h-1zM769 80h1v1h-1zM769 346h1v1h-1z"/>
<g shape-rendering="crispEdges" fill="#0000ff"><rect x="71" y="789" width="698" height="1"/><rect x="207" y="789" width="2" height="75"/><rect x="208" y="789" width="1" height="150"/><rect x="650" y="789" width="2" height="75"/><rect x="650" y="789" width="1" height="150"/></g>
<g shape-rendering="crispEdges">
<rect x="71" y="31" width="699" height="1" fill="#000"/>
<rect x="71" y="217" width="699" height="1" fill="#000"/>
<rect x="71" y="31" width="1" height="187" fill="#000"/>
<rect x="769" y="31" width="1" height="187" fill="#000"/>
<rect x="100" y="215" width="1" height="2" fill="#000"/>
<rect x="100" y="32" width="1" height="2" fill="#000"/>
<rect x="130" y="215" width="1" height="2" fill="#000"/>
<rect x="130" y="32" width="1" height="2" fill="#000"/>
<rect x="159" y="213" width="1" height="4" fill="#000"/>
<rect x="159" y="32" width="1" height="4" fill="#000"/>
<rect x="188" y="215" width="1" height="2" fill="#000"/>
<rect x="188" y="32" width="1" height="2" fill="#000"/>
<rect x="217" y="215" width="1" height="2" fill="#000"/>
<rect x="217" y="32" width="1" height="2" fill="#000"/>
<rect x="246" y="213" width="1" height="4" fill="#000"/>
<rect x="246" y="32" width="1" height="4" fill="#000"/>
<rect x="275" y="215" width="1" height="2" fill="#000"/>
<rect x="275" y="32" width="1" height="2" fill="#000"/>
<rect x="304" y="215" width="1" height="2" fill="#000"/>
<rect x="304" y="32" width="1" height="2" fill="#000"/>
<rect x="333" y="213" width="1" height="4" fill="#000"/>
<rect x="333" y="32" width="1" height="4" fill="#000"/>
<rect x="362" y="215" width="1" height="2" fill="#000"/>
<rect x="362" y="32" width="1" height="2" fill="#000"/>
<rect x="391" y="215" width="1" height="2" fill="#000"/>
<rect x="391" y="32" width="1" height="2" fill="#000"/>
<rect x="420" y="213" width="1" height="4" fill="#000"/>
<rect x="420" y="32" width="1" height="4" fill="#000"/>
<rect x="449" y="215" width="1" height="2" fill="#000"/>
<rect x="449" y="32" width="1" height="2" fill="#000"/>
<rect x="478" y="215" width="1" height="2" fill="#000"/>
<rect x="478" y="32" width="1" height="2" fill="#000"/>
<rect x="507" y="213" width="1" height="4" fill="#000"/>
<rect x="507" y="32" width="1" height="4" fill="#000"/>
<rect x="536" y="215" width="1" height="2" fill="#000"/>
<rect x="536" y="32" width="1" height="2" fill="#000"/>
<rect x="565" y="215" width="1" height="2" fill="#000"/>
<rect x="565" y="32" width="1" height="2" fill="#000"/>
<rect x="594" y="213" width="1" height="4" fill="#000"/>
<rect x="594" y="32" width="1" height="4" fill="#000"/>
<rect x="623" y="215" width="1" height="2" fill="#000"/>
<rect x="623" y="32" width="1" height="2" fill="#000"/>
<rect x="652" y="215" width="1" height="2" fill="#000"/>
<rect x="652" y="32" width="1" height="2" fill="#000"/>
<rect x="681" y="213" width="1" height="4" fill="#000"/>
<rect x="681" y="32" width="1" height="4" fill="#000"/>
<rect x="710" y="215" width="1" height="2" fill="#000"/>
<rect x="710" y="32" width="1" height="2" fill="#000"/>
<rect x="740" y="215" width="1" height="2" fill="#000"/>
<rect x="740" y="32" width="1" height="2" fill="#000"/>
<rect x="71" y="65" width="15" height="1" fill="#000"/>
<rect x="755" y="65" width="15" height="1" fill="#000"/>
<rect x="71" y="101" width="15" height="1" fill="#000"/>
<rect x="755" y="101" width="15" height="1" fill="#000"/>
<rect x="71" y="138" width="15" height="1" fill="#000"/>
<rect x="755" y="138" width="15" height="1" fill="#000"/>
<rect x="71" y="175" width="15" height="1" fill="#000"/>
<rect x="755" y="175" width="15" height="1" fill="#000"/>
<rect x="71" y="212" width="15" height="1" fill="#000"/>
<rect x="755" y="212" width="15" height="1" fill="#000"/>
<rect x="71" y="37" width="8" height="1" fill="#000"/>
<rect x="762" y="37" width="8" height="1" fill="#000"/>
<rect x="71" y="46" width="8" height="1" fill="#000"/>
<rect x="762" y="46" width="8" height="1" fill="#000"/>
<rect x="71" y="56" width="8" height="1" fill="#000"/>
<rect x="762" y="56" width="8" height="1" fill="#000"/>
<rect x="71" y="74" width="8" height="1" fill="#000"/>
<rect x="762" y="74" width="8" height="1" fill="#000"/>
<rect x="71" y="83" width="8" height="1" fill="#000"/>
<rect x="762" y="83" width="8" height="1" fill="#000"/>
<rect x="71" y="92" width="8" height="1" fill="#000"/>
<rect x="762" y="92" width="8" height="1" fill="#000"/>
<rect x="71" y="111" width="8" height="1" fill="#000"/>
<rect x="762" y="111" width="8" height="1" fill="#000"/>
<rect x="71" y="120" width="8" height="1" fill="#000"/>
<rect x="762" y="120" width="8" height="1" fill="#000"/>
<rect x="71" y="129" width="8" height="1" fill="#000"/>
<rect x="762" y="129" width="8" height="1" fill="#000"/>
<rect x="71" y="147" width="8" height="1" fill="#000"/>
<rect x="762" y="147" width="8" height="1" fill="#000"/>
<rect x="71" y="156" width="8" height="1" fill="#000"/>
<rect x="762" y="156" width="8" height="1" fill="#000"/>
<rect x="71" y="166" width="8" height="1" fill="#000"/>
<rect x="762" y="166" width="8" height="1" fill="#000"/>
<rect x="71" y="184" width="8" height="1" fill="#000"/>
<rect x="762" y="184" width="8" height="1" fill="#000"/>
<rect x="71" y="193" width="8" height="1" fill="#000"/>
<rect x="762" y="193" width="8" height="1" fill="#000"/>
<rect x="71" y="202" width="8" height="1" fill="#000"/>
<rect x="762" y="202" width="8" height="1" fill="#000"/>
<rect x="71" y="281" width="699" height="1" fill="#000"/>
<rect x="71" y="467" width="699" height="1" fill="#000"/>
<rect x="71" y="281" width="1" height="187" fill="#000"/>
<rect x="769" y="281" width="1" height="187" fill="#000"/>
<rect x="100" y="465" width="1" height="2" fill="#000"/>
<rect x="100" y="282" width="1" height="2" fill="#000"/>
<rect x="130" y="465" width="1" height="2" fill="#000"/>
<rect x="130" y="282" width="1" height="2" fill="#000"/>
<rect x="159" y="463" width="1" height="4" fill="#000"/>
<rect x="159" y="282" width="1" height="4" fill="#000"/>
<rect x="188" y="465" width="1" height="2" fill="#000"/>
<rect x="188" y="282" width="1" height="2" fill="#000"/>
<rect x="217" y="465" width="1" height="2" fill="#000"/>
<rect x="217" y="282" width="1" height="2" fill="#000"/>
<rect x="246" y="463" width="1" height="4" fill="#000"/>
<rect x="246" y="282" width="1" height="4" fill="#000"/>
<rect x="275" y="465" width="1" height="2" fill="#000"/>
<rect x="275" y="282" width="1" height="2" fill="#000"/>
<rect x="304" y="465" width="1" height="2" fill="#000"/>
<rect x="304" y="282" width="1" height="2" fill="#000"/>
<rect x="333" y="463" width="1" height="4" fill="#000"/>
<rect x="333" y="282" width="1" height="4" fill="#000"/>
<rect x="362" y="465" width="1" height="2" fill="#000"/>
<rect x="362" y="282" width="1" height="2" fill="#000"/>
<rect x="391" y="465" width="1" height="2" fill="#000"/>
<rect x="391" y="282" width="1" height="2" fill="#000"/>
<rect x="420" y="463" width="1" height="4" fill="#000"/>
<rect x="420" y="282" width="1" height="4" fill="#000"/>
<rect x="449" y="465" width="1" height="2" fill="#000"/>
<rect x="449" y="282" width="1" height="2" fill="#000"/>
<rect x="478" y="465" width="1" height="2" fill="#000"/>
<rect x="478" y="282" width="1" height="2" fill="#000"/>
<rect x="507" y="463" width="1" height="4" fill="#000"/>
<rect x="507" y="282" width="1" height="4" fill="#000"/>
<rect x="536" y="465" width="1" height="2" fill="#000"/>
<rect x="536" y="282" width="1" height="2" fill="#000"/>
<rect x="565" y="465" width="1" height="2" fill="#000"/>
<rect x="565" y="282" width="1" height="2" fill="#000"/>
<rect x="594" y="463" width="1" height="4" fill="#000"/>
<rect x="594" y="282" width="1" height="4" fill="#000"/>
<rect x="623" y="465" width="1" height="2" fill="#000"/>
<rect x="623" y="282" width="1" height="2" fill="#000"/>
<rect x="652" y="465" width="1" height="2" fill="#000"/>
<rect x="652" y="282" width="1" height="2" fill="#000"/>
<rect x="681" y="463" width="1" height="4" fill="#000"/>
<rect x="681" y="282" width="1" height="4" fill="#000"/>
<rect x="710" y="465" width="1" height="2" fill="#000"/>
<rect x="710" y="282" width="1" height="2" fill="#000"/>
<rect x="740" y="465" width="1" height="2" fill="#000"/>
<rect x="740" y="282" width="1" height="2" fill="#000"/>
<rect x="71" y="440" width="15" height="1" fill="#000"/>
<rect x="755" y="440" width="15" height="1" fill="#000"/>
<rect x="71" y="402" width="15" height="1" fill="#000"/>
<rect x="755" y="402" width="15" height="1" fill="#000"/>
<rect x="71" y="365" width="15" height="1" fill="#000"/>
<rect x="755" y="365" width="15" height="1" fill="#000"/>
<rect x="71" y="327" width="15" height="1" fill="#000"/>
<rect x="755" y="327" width="15" height="1" fill="#000"/>
<rect x="71" y="290" width="15" height="1" fill="#000"/>
<rect x="755" y="290" width="15" height="1" fill="#000"/>
<rect x="71" y="299" width="8" height="1" fill="#000"/>
<rect x="762" y="299" width="8" height="1" fill="#000"/>
<rect x="71" y="308" width="8" height="1" fill="#000"/>
<rect x="762" y="308" width="8" height="1" fill="#000"/>
<rect x="71" y="318" width="8" height="1" fill="#000"/>
<rect x="762" y="318" width="8" height="1" fill="#000"/>
<rect x="71" y="336" width="8" height="1" fill="#000"/>
<rect x="762" y="336" width="8" height="1" fill="#000"/>
<rect x="71" y="346" width="8" height="1" fill="#000"/>
<rect x="762" y="346" width="8" height="1" fill="#000"/>
<rect x="71" y="355" width="8" height="1" fill="#000"/>
<rect x="762" y="355" width="8" height="1" fill="#000"/>
<rect x="71" y="374" width="8" height="1" fill="#000"/>
<rect x="762" y="374" width="8" height="1" fill="#000"/>
<rect x="71" y="383" width="8" height="1" fill="#000"/>
<rect x="762" y="383" width="8" height="1" fill="#000"/>
<rect x="71" y="393" width="8" height="1" fill="#000"/>
<rect x="762" y="393" width="8" height="1" fill="#000"/>
<rect x="71" y="412" width="8" height="1" fill="#000"/>
<rect x="762" y="412" width="8" height="1" fill="#000"/>
<rect x="71" y="421" width="8" height="1" fill="#000"/>
<rect x="762" y="421" width="8" height="1" fill="#000"/>
<rect x="71" y="430" width="8" height="1" fill="#000"/>
<rect x="762" y="430" width="8" height="1" fill="#000"/>
<rect x="71" y="449" width="8" height="1" fill="#000"/>
<rect x="762" y="449" width="8" height="1" fill="#000"/>
<rect x="71" y="458" width="8" height="1" fill="#000"/>
<rect x="762" y="458" width="8" height="1" fill="#000"/>
<rect x="71" y="531" width="699" height="1" fill="#000"/>
<rect x="71" y="717" width="699" height="1" fill="#000"/>
<rect x="71" y="531" width="1" height="187" fill="#000"/>
<rect x="769" y="531" width="1" height="187" fill="#000"/>
<rect x="100" y="715" width="1" height="2" fill="#000"/>
<rect x="100" y="532" width="1" height="2" fill="#000"/>
<rect x="130" y="715" width="1" height="2" fill="#000"/>
<rect x="130" y="532" width="1" height="2" fill="#000"/>
<rect x="159" y="713" width="1" height="4" fill="#000"/>
<rect x="159" y="532" width="1" height="4" fill="#000"/>
<rect x="188" y="715" width="1" height="2" fill="#000"/>
<rect x="188" y="532" width="1" height="2" fill="#000"/>
<rect x="217" y="715" width="1" height="2" fill="#000"/>
<rect x="217" y="532" width="1" height="2" fill="#000"/>
<rect x="246" y="713" width="1" height="4" fill="#000"/>
<rect x="246" y="532" width="1" height="4" fill="#000"/>
<rect x="275" y="715" width="1" height="2" fill="#000"/>
<rect x="275" y="532" width="1" height="2" fill="#000"/>
<rect x="304" y="715" width="1" height="2" fill="#000"/>
<rect x="304" y="532" width="1" height="2" fill="#000"/>
<rect x="333" y="713" width="1" height="4" fill="#000"/>
<rect x="333" y="532" width="1" height="4" fill="#000"/>
<rect x="362" y="715" width="1" height="2" fill="#000"/>
<rect x="362" y="532" width="1" height="2" fill="#000"/>
<rect x="391" y="715" width="1" height="2" fill="#000"/>
<rect x="391" y="532" width="1" height="2" fill="#000"/>
<rect x="420" y="713" width="1" height="4" fill="#000"/>
<rect x="420" y="532" width="1" height="4" fill="#000"/>
<rect x="449" y="715" width="1" height="2" fill="#000"/>
<rect x="449" y="532" width="1" height="2" fill="#000"/>
<rect x="478" y="715" width="1" height="2" fill="#000"/>
<rect x="478" y="532" width="1" height="2" fill="#000"/>
<rect x="507" y="713" width="1" height="4" fill="#000"/>
<rect x="507" y="532" width="1" height="4" fill="#000"/>
<rect x="536" y="715" width="1" height="2" fill="#000"/>
<rect x="536" y="532" width="1" height="2" fill="#000"/>
<rect x="565" y="715" width="1" height="2" fill="#000"/>
<rect x="565" y="532" width="1" height="2" fill="#000"/>
<rect x="594" y="713" width="1" height="4" fill="#000"/>
<rect x="594" y="532" width="1" height="4" fill="#000"/>
<rect x="623" y="715" width="1" height="2" fill="#000"/>
<rect x="623" y="532" width="1" height="2" fill="#000"/>
<rect x="652" y="715" width="1" height="2" fill="#000"/>
<rect x="652" y="532" width="1" height="2" fill="#000"/>
<rect x="681" y="713" width="1" height="4" fill="#000"/>
<rect x="681" y="532" width="1" height="4" fill="#000"/>
<rect x="710" y="715" width="1" height="2" fill="#000"/>
<rect x="710" y="532" width="1" height="2" fill="#000"/>
<rect x="740" y="715" width="1" height="2" fill="#000"/>
<rect x="740" y="532" width="1" height="2" fill="#000"/>
<rect x="71" y="568" width="15" height="1" fill="#000"/>
<rect x="755" y="568" width="15" height="1" fill="#000"/>
<rect x="71" y="605" width="15" height="1" fill="#000"/>
<rect x="755" y="605" width="15" height="1" fill="#000"/>
<rect x="71" y="643" width="15" height="1" fill="#000"/>
<rect x="755" y="643" width="15" height="1" fill="#000"/>
<rect x="71" y="680" width="15" height="1" fill="#000"/>
<rect x="755" y="680" width="15" height="1" fill="#000"/>
<rect x="71" y="540" width="8" height="1" fill="#000"/>
<rect x="762" y="540" width="8" height="1" fill="#000"/>
<rect x="71" y="550" width="8" height="1" fill="#000"/>
<rect x="762" y="550" width="8" height="1" fill="#000"/>
<rect x="71" y="559" width="8" height="1" fill="#000"/>
<rect x="762" y="559" width="8" height="1" fill="#000"/>
<rect x="71" y="578" width="8" height="1" fill="#000"/>
<rect x="762" y="578" width="8" height="1" fill="#000"/>
<rect x="71" y="587" width="8" height="1" fill="#000"/>
<rect x="762" y="587" width="8" height="1" fill="#000"/>
<rect x="71" y="596" width="8" height="1" fill="#000"/>
<rect x="762" y="596" width="8" height="1" fill="#000"/>
<rect x="71" y="615" width="8" height="1" fill="#000"/>
<rect x="762" y="615" width="8" height="1" fill="#000"/>
<rect x="71" y="624" width="8" height="1" fill="#000"/>
<rect x="762" y="624" width="8" height="1" fill="#000"/>
<rect x="71" y="633" width="8" height="1" fill="#000"/>
<rect x="762" y="633" width="8" height="1" fill="#000"/>
<rect x="71" y="652" width="8" height="1" fill="#000"/>
<rect x="762" y="652" width="8" height="1" fill="#000"/>
<rect x="71" y="661" width="8" height="1" fill="#000"/>
<rect x="762" y="661" width="8" height="1" fill="#000"/>
<rect x="71" y="670" width="8" height="1" fill="#000"/>
<rect x="762" y="670" width="8" height="1" fill="#000"/>
<rect x="71" y="689" width="8" height="1" fill="#000"/>
<rect x="762" y="689" width="8" height="1" fill="#000"/>
<rect x="71" y="698" width="8" height="1" fill="#000"/>
<rect x="762" y="698" width="8" height="1" fill="#000"/>
<rect x="71" y="708" width="8" height="1" fill="#000"/>
<rect x="762" y="708" width="8" height="1" fill="#000"/>
<rect x="71" y="781" width="699" height="1" fill="#000"/>
<rect x="71" y="945" width="699" height="1" fill="#000"/>
<rect x="71" y="781" width="1" height="165" fill="#000"/>
<rect x="769" y="781" width="1" height="165" fill="#000"/>
<rect x="100" y="943" width="1" height="2" fill="#000"/>
<rect x="100" y="782" width="1" height="2" fill="#000"/>
<rect x="130" y="943" width="1" height="2" fill="#000"/>
<rect x="130" y="782" width="1" height="2" fill="#000"/>
<rect x="159" y="941" width="1" height="4" fill="#000"/>
<rect x="159" y="782" width="1" height="4" fill="#000"/>
<rect x="188" y="943" width="1" height="2" fill="#000"/>
<rect x="188" y="782" width="1" height="2" fill="#000"/>
<rect x="217" y="943" width="1" height="2" fill="#000"/>
<rect x="217" y="782" width="1" height="2" fill="#000"/>
<rect x="246" y="941" width="1" height="4" fill="#000"/>
<rect x="246" y="782" width="1" height="4" fill="#000"/>
<rect x="275" y="943" width="1" height="2" fill="#000"/>
<rect x="275" y="782" width="1" height="2" fill="#000"/>
<rect x="304" y="943" width="1" height="2" fill="#000"/>
<rect x="304" y="782" width="1" height="2" fill="#000"/>
<rect x="333" y="941" width="1" height="4" fill="#000"/>
<rect x="333" y="782" width="1" height="4" fill="#000"/>
<rect x="362" y="943" width="1" height="2" fill="#000"/>
<rect x="362" y="782" width="1" height="2" fill="#000"/>
<rect x="391" y="943" width="1" height="2" fill="#000"/>
<rect x="391" y="782" width="1" height="2" fill="#000"/>
<rect x="420" y="941" width="1" height="4" fill="#000"/>
<rect x="420" y="782" width="1" height="4" fill="#000"/>
<rect x="449" y="943" width="1" height="2" fill="#000"/>
<rect x="449" y="782" width="1" height="2" fill="#000"/>
<rect x="478" y="943" width="1" height="2" fill="#000"/>
<rect x="478" y="782" width="1" height="2" fill="#000"/>
<rect x="507" y="941" width="1" height="4" fill="#000"/>
<rect x="507" y="782" width="1" height="4" fill="#000"/>
<rect x="536" y="943" width="1" height="2" fill="#000"/>
<rect x="536" y="782" width="1" height="2" fill="#000"/>
<rect x="565" y="943" width="1" height="2" fill="#000"/>
<rect x="565" y="782" width="1" height="2" fill="#000"/>
<rect x="594" y="941" width="1" height="4" fill="#000"/>
<rect x="594" y="782" width="1" height="4" fill="#000"/>
<rect x="623" y="943" width="1" height="2" fill="#000"/>
<rect x="623" y="782" width="1" height="2" fill="#000"/>
<rect x="652" y="943" width="1" height="2" fill="#000"/>
<rect x="652" y="782" width="1" height="2" fill="#000"/>
<rect x="681" y="941" width="1" height="4" fill="#000"/>
<rect x="681" y="782" width="1" height="4" fill="#000"/>
<rect x="710" y="943" width="1" height="2" fill="#000"/>
<rect x="710" y="782" width="1" height="2" fill="#000"/>
<rect x="740" y="943" width="1" height="2" fill="#000"/>
<rect x="740" y="782" width="1" height="2" fill="#000"/>
<rect x="71" y="938" width="15" height="1" fill="#000"/>
<rect x="755" y="938" width="15" height="1" fill="#000"/>
<rect x="71" y="908" width="15" height="1" fill="#000"/>
<rect x="755" y="908" width="15" height="1" fill="#000"/>
<rect x="71" y="878" width="15" height="1" fill="#000"/>
<rect x="755" y="878" width="15" height="1" fill="#000"/>
<rect x="71" y="848" width="15" height="1" fill="#000"/>
<rect x="755" y="848" width="15" height="1" fill="#000"/>
<rect x="71" y="818" width="15" height="1" fill="#000"/>
<rect x="755" y="818" width="15" height="1" fill="#000"/>
<rect x="71" y="789" width="15" height="1" fill="#000"/>
<rect x="755" y="789" width="15" height="1" fill="#000"/>
<rect x="71" y="796" width="8" height="1" fill="#000"/>
<rect x="762" y="796" width="8" height="1" fill="#000"/>
<rect x="71" y="804" width="8" height="1" fill="#000"/>
<rect x="762" y="804" width="8" height="1" fill="#000"/>
<rect x="71" y="811" width="8" height="1" fill="#000"/>
<rect x="762" y="811" width="8" height="1" fill="#000"/>
<rect x="71" y="826" width="8" height="1" fill="#000"/>
<rect x="762" y="826" width="8" height="1" fill="#000"/>
<rect x="71" y="833" width="8" height="1" fill="#000"/>
<rect x="762" y="833" width="8" height="1" fill="#000"/>
<rect x="71" y="841" width="8" height="1" fill="#000"/>
<rect x="762" y="841" width="8" height="1" fill="#000"/>
<rect x="71" y="856" width="8" height="1" fill="#000"/>
<rect x="762" y="856" width="8" height="1" fill="#000"/>
<rect x="71" y="863" width="8" height="1" fill="#000"/>
<rect x="762" y="863" width="8" height="1" fill="#000"/>
<rect x="71" y="871" width="8" height="1" fill="#000"/>
<rect x="762" y="871" width="8" height="1" fill="#000"/>
<rect x="71" y="886" width="8" height="1" fill="#000"/>
<rect x="762" y="886" width="8" height="1" fill="#000"/>
<rect x="71" y="893" width="8" height="1" fill="#000"/>
<rect x="762" y="893" width="8" height="1" fill="#000"/>
<rect x="71" y="901" width="8" height="1" fill="#000"/>
<rect x="762" y="901" width="8" height="1" fill="#000"/>
<rect x="71" y="916" width="8" height="1" fill="#000"/>
<rect x="762" y="916" width="8" height="1" fill="#000"/>
<rect x="71" y="923" width="8" height="1" fill="#000"/>
<rect x="762" y="923" width="8" height="1" fill="#000"/>
<rect x="71" y="930" width="8" height="1" fill="#000"/>
<rect x="762" y="930" width="8" height="1" fill="#000"/>
</g>
<text x="68.5" y="217" font-size="13" fill="#000" text-anchor="end">8.0×10<tspan font-size="9" dy="-5">3</tspan></text>
<text x="773" y="217" font-size="13" fill="#000">8.0×10<tspan font-size="9" dy="-5">3</tspan></text>
<text x="68.5" y="180" font-size="13" fill="#000" text-anchor="end">1.0×10<tspan font-size="9" dy="-5">4</tspan></text>
<text x="773" y="180" font-size="13" fill="#000">1.0×10<tspan font-size="9" dy="-5">4</tspan></text>
<text x="68.5" y="143" font-size="13" fill="#000" text-anchor="end">1.2×10<tspan font-size="9" dy="-5">4</tspan></text>
<text x="773" y="143" font-size="13" fill="#000">1.2×10<tspan font-size="9" dy="-5">4</tspan></text>
<text x="68.5" y="106" font-size="13" fill="#000" text-anchor="end">1.4×10<tspan font-size="9" dy="-5">4</tspan></text>
<text x="773" y="106" font-size="13" fill="#000">1.4×10<tspan font-size="9" dy="-5">4</tspan></text>
<text x="68.5" y="70" font-size="13" fill="#000" text-anchor="end">1.6×10<tspan font-size="9" dy="-5">4</tspan></text>
<text x="773" y="70" font-size="13" fill="#000">1.6×10<tspan font-size="9" dy="-5">4</tspan></text>
<text x="71" y="234" font-size="13" fill="#000" text-anchor="middle">00:00</text>
<text x="159" y="234" font-size="13" fill="#000" text-anchor="middle">03:00</text>
<text x="246" y="234" font-size="13" fill="#000" text-anchor="middle">06:00</text>
<text x="333" y="234" font-size="13" fill="#000" text-anchor="middle">09:00</text>
<text x="420" y="234" font-size="13" fill="#000" text-anchor="middle">12:00</text>
<text x="507" y="234" font-size="13" fill="#000" text-anchor="middle">15:00</text>
<text x="594" y="234" font-size="13" fill="#000" text-anchor="middle">18:00</text>
<text x="681" y="234" font-size="13" fill="#000" text-anchor="middle">21:00</text>
<text x="769" y="234" font-size="13" fill="#000" text-anchor="middle">00:00</text>
<text transform="translate(419.5 248) scale(0.9 1)" x="0" y="0" font-size="13" text-anchor="middle" style="letter-spacing:0.22px;word-spacing:3.1px">Time (UTC)</text>
<text x="68.5" y="445" font-size="13" fill="#000" text-anchor="end">14</text>
<text x="773" y="445" font-size="13" fill="#000">14</text>
<text x="68.5" y="407" font-size="13" fill="#000" text-anchor="end">16</text>
<text x="773" y="407" font-size="13" fill="#000">16</text>
<text x="68.5" y="370" font-size="13" fill="#000" text-anchor="end">18</text>
<text x="773" y="370" font-size="13" fill="#000">18</text>
<text x="68.5" y="332" font-size="13" fill="#000" text-anchor="end">20</text>
<text x="773" y="332" font-size="13" fill="#000">20</text>
<text x="68.5" y="295" font-size="13" fill="#000" text-anchor="end">22</text>
<text x="773" y="295" font-size="13" fill="#000">22</text>
<text x="71" y="484" font-size="13" fill="#000" text-anchor="middle">00:00</text>
<text x="159" y="484" font-size="13" fill="#000" text-anchor="middle">03:00</text>
<text x="246" y="484" font-size="13" fill="#000" text-anchor="middle">06:00</text>
<text x="333" y="484" font-size="13" fill="#000" text-anchor="middle">09:00</text>
<text x="420" y="484" font-size="13" fill="#000" text-anchor="middle">12:00</text>
<text x="507" y="484" font-size="13" fill="#000" text-anchor="middle">15:00</text>
<text x="594" y="484" font-size="13" fill="#000" text-anchor="middle">18:00</text>
<text x="681" y="484" font-size="13" fill="#000" text-anchor="middle">21:00</text>
<text x="769" y="484" font-size="13" fill="#000" text-anchor="middle">00:00</text>
<text transform="translate(419.5 498) scale(0.9 1)" x="0" y="0" font-size="13" text-anchor="middle" style="letter-spacing:0.22px;word-spacing:3.1px">Time (UTC)</text>
<text x="68.5" y="718" font-size="13" fill="#000" text-anchor="end">0.0</text>
<text x="773" y="718" font-size="13" fill="#000">0.0</text>
<text x="68.5" y="685" font-size="13" fill="#000" text-anchor="end">0.2</text>
<text x="773" y="685" font-size="13" fill="#000">0.2</text>
<text x="68.5" y="648" font-size="13" fill="#000" text-anchor="end">0.4</text>
<text x="773" y="648" font-size="13" fill="#000">0.4</text>
<text x="68.5" y="610" font-size="13" fill="#000" text-anchor="end">0.6</text>
<text x="773" y="610" font-size="13" fill="#000">0.6</text>
<text x="68.5" y="573" font-size="13" fill="#000" text-anchor="end">0.8</text>
<text x="773" y="573" font-size="13" fill="#000">0.8</text>
<text x="68.5" y="541" font-size="13" fill="#000" text-anchor="end">1.0</text>
<text x="773" y="541" font-size="13" fill="#000">1.0</text>
<text x="71" y="734" font-size="13" fill="#000" text-anchor="middle">00:00</text>
<text x="159" y="734" font-size="13" fill="#000" text-anchor="middle">03:00</text>
<text x="246" y="734" font-size="13" fill="#000" text-anchor="middle">06:00</text>
<text x="333" y="734" font-size="13" fill="#000" text-anchor="middle">09:00</text>
<text x="420" y="734" font-size="13" fill="#000" text-anchor="middle">12:00</text>
<text x="507" y="734" font-size="13" fill="#000" text-anchor="middle">15:00</text>
<text x="594" y="734" font-size="13" fill="#000" text-anchor="middle">18:00</text>
<text x="681" y="734" font-size="13" fill="#000" text-anchor="middle">21:00</text>
<text x="769" y="734" font-size="13" fill="#000" text-anchor="middle">00:00</text>
<text transform="translate(419.5 748) scale(0.9 1)" x="0" y="0" font-size="13" text-anchor="middle" style="letter-spacing:0.22px;word-spacing:3.1px">Time (UTC)</text>
<text x="68.5" y="943" font-size="13" fill="#000" text-anchor="end">23.60</text>
<text x="773" y="943" font-size="13" fill="#000">23.60</text>
<text x="68.5" y="913" font-size="13" fill="#000" text-anchor="end">23.62</text>
<text x="773" y="913" font-size="13" fill="#000">23.62</text>
<text x="68.5" y="883" font-size="13" fill="#000" text-anchor="end">23.64</text>
<text x="773" y="883" font-size="13" fill="#000">23.64</text>
<text x="68.5" y="853" font-size="13" fill="#000" text-anchor="end">23.66</text>
<text x="773" y="853" font-size="13" fill="#000">23.66</text>
<text x="68.5" y="823" font-size="13" fill="#000" text-anchor="end">23.68</text>
<text x="773" y="823" font-size="13" fill="#000">23.68</text>
<text x="68.5" y="794" font-size="13" fill="#000" text-anchor="end">23.70</text>
<text x="773" y="794" font-size="13" fill="#000">23.70</text>
<text x="71" y="962" font-size="13" fill="#000" text-anchor="middle">00:00</text>
<text x="159" y="962" font-size="13" fill="#000" text-anchor="middle">03:00</text>
<text x="246" y="962" font-size="13" fill="#000" text-anchor="middle">06:00</text>
<text x="333" y="962" font-size="13" fill="#000" text-anchor="middle">09:00</text>
<text x="420" y="962" font-size="13" fill="#000" text-anchor="middle">12:00</text>
<text x="507" y="962" font-size="13" fill="#000" text-anchor="middle">15:00</text>
<text x="594" y="962" font-size="13" fill="#000" text-anchor="middle">18:00</text>
<text x="681" y="962" font-size="13" fill="#000" text-anchor="middle">21:00</text>
<text x="769" y="962" font-size="13" fill="#000" text-anchor="middle">00:00</text>
<text transform="translate(419.5 976) scale(0.9 1)" x="0" y="0" font-size="13" text-anchor="middle" style="letter-spacing:0.22px;word-spacing:3.1px">Time (UTC)</text>
<text transform="translate(419.5 26) scale(0.95 1)" x="0" y="0" font-size="15" text-anchor="middle" style="letter-spacing:0.821px;word-spacing:3.621px">ACXS1 PARS2 Laserband amplitude vs Time at S1 for 20150210</text>
<text transform="translate(419.5 276) scale(0.95 1)" x="0" y="0" font-size="15" text-anchor="middle" style="letter-spacing:0.821px;word-spacing:3.621px">ACXS1 PARS2 Temperature in sensor vs Time at S1 for 20150210</text>
<text transform="translate(419.5 526) scale(0.95 1)" x="0" y="0" font-size="15" text-anchor="middle" style="letter-spacing:0.821px;word-spacing:3.621px">ACXS1 PARS2 Heating current vs Time at S1 for 20150210</text>
<text transform="translate(419.5 776) scale(0.95 1)" x="0" y="0" font-size="15" text-anchor="middle" style="letter-spacing:0.821px;word-spacing:3.621px">ACXS1 PARS2 Sensor voltage vs Time at S1 for 20150210</text>
<text transform="translate(16.5 125) rotate(-90)" x="0" y="0" font-size="11" fill="#0000ff" text-anchor="middle" style="letter-spacing:0.88px;word-spacing:1.4px">Laserband amplitude (counts)</text>
<text transform="translate(38.5 376) rotate(-90)" x="0" y="0" font-size="11" fill="#0000ff" text-anchor="middle" style="letter-spacing:0.88px;word-spacing:1.4px">Temperature in sensor (degC)</text>
<text transform="translate(38.5 625) rotate(-90)" x="0" y="0" font-size="11" fill="#0000ff" text-anchor="middle" style="letter-spacing:0.88px;word-spacing:1.4px">Heating current (amp)</text>
<text transform="translate(16.5 864.4) rotate(-90)" x="0" y="0" font-size="11" fill="#0000ff" text-anchor="middle" style="letter-spacing:0.88px;word-spacing:1.4px">Sensor voltage (volt)</text>
<text transform="translate(419.5 996) scale(0.95 1)" x="0" y="0" font-size="10" fill="#ad0a0f" text-anchor="middle" style="letter-spacing:0.56px;word-spacing:2.6px">Image provided by the ARM Data Quality Office: 20150303</text>
</svg>
</body></html>
